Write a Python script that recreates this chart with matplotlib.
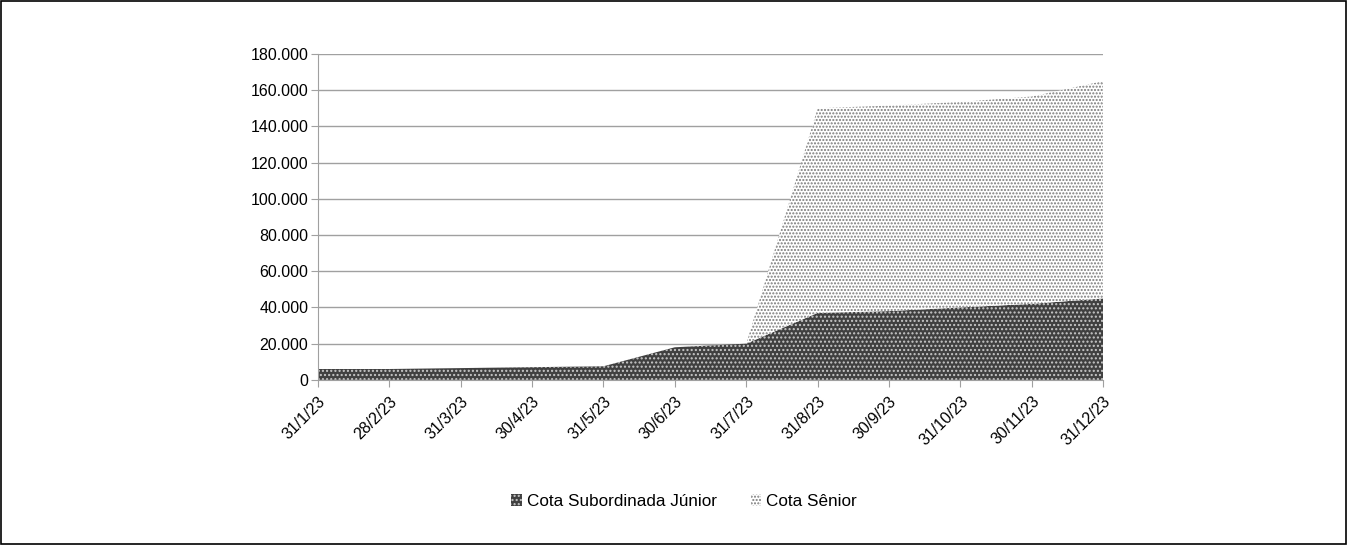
import numpy as np
import matplotlib.pyplot as plt
from matplotlib.ticker import FuncFormatter

plt.rcParams['font.family'] = ['Liberation Sans', 'DejaVu Sans']
plt.rcParams['hatch.linewidth'] = 1.0

datas = ['31/1/23', '28/2/23', '31/3/23', '30/4/23', '31/5/23', '30/6/23',
         '31/7/23', '31/8/23', '30/9/23', '31/10/23', '30/11/23', '31/12/23']
junior = [6000, 6000, 6500, 7000, 7500, 18000, 20000, 37000, 38000, 40000, 42000, 45000]
senior = [0, 0, 0, 0, 0, 0, 0, 113000, 113500, 113500, 114500, 120000]

xs = np.arange(len(datas))

fig = plt.figure(figsize=(13.47, 5.45), dpi=100)
ax = fig.add_axes([0.236, 0.303, 0.583, 0.598])

p1 = ax.fill_between(xs, 0, junior, facecolor='#404040', edgecolor='#c8c8c8',
                     hatch='....', linewidth=0, label='Cota Subordinada Júnior')
p2 = ax.fill_between(xs, junior, np.array(junior) + np.array(senior),
                     facecolor='white', edgecolor='#7a7a7a', hatch='.....',
                     linewidth=0, label='Cota Sênior')

ax.set_xlim(0, len(datas) - 1)
ax.set_ylim(0, 180000)
ax.set_yticks(np.arange(0, 180001, 20000))
ax.yaxis.set_major_formatter(FuncFormatter(lambda v, p: f'{int(v):,}'.replace(',', '.')))
ax.set_xticks(xs)
ax.set_xticklabels(datas, rotation=45, ha='right', rotation_mode='anchor')
ax.tick_params(axis='both', labelsize=11.5, color='#a0a0a0', length=5)
ax.tick_params(axis='y', pad=2)
ax.tick_params(axis='x', pad=5)

ax.grid(axis='y', color='#a0a0a0', linewidth=1)
ax.set_axisbelow(True)
for s in ['top', 'right']:
    ax.spines[s].set_visible(False)
ax.spines['left'].set_color('#a0a0a0')
ax.spines['bottom'].set_color('#a0a0a0')

fig.legend(handles=[p1, p2], loc='center', bbox_to_anchor=(0.508, 0.08), ncol=2,
           frameon=False, fontsize=12.3, handlelength=0.6, handleheight=0.7,
           columnspacing=2.0, handletextpad=0.3)

fig.patches.append(plt.Rectangle((0.001, 0.002), 0.998, 0.996, transform=fig.transFigure,
                                 fill=False, edgecolor='black', linewidth=1.2))

fig.savefig('out.png', dpi=100)
